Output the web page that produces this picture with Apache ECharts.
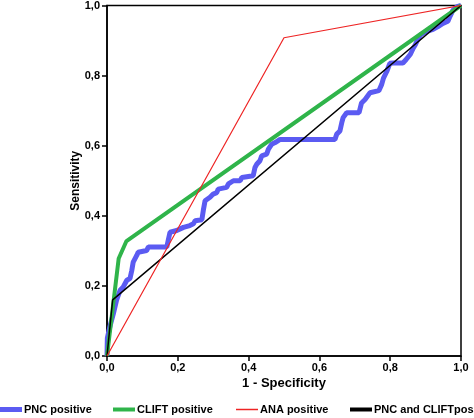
<!DOCTYPE html>
<html>
<head>
<meta charset="utf-8">
<script src="https://cdn.jsdelivr.net/npm/echarts@6/dist/echarts.min.js"></script>
<style>
html,body{margin:0;padding:0;background:#fff;}
#chart{width:474px;height:418px;}
</style>
</head>
<body>
<div id="chart"></div>
<script>
// ---- data ----
const seriesNames = ['PNC positive', 'CLIFT positive', 'ANA positive', 'PNC and CLIFTpos'];
const axisTicks = [0, 0.2, 0.4, 0.6, 0.8, 1.0];

const pncFpr = [0, 0.001, 0.008, 0.018, 0.027, 0.037, 0.046, 0.056, 0.065, 0.070, 0.074, 0.084, 0.088, 0.112, 0.117, 0.169, 0.173, 0.178, 0.197, 0.216, 0.234, 0.244, 0.249, 0.268, 0.272, 0.277, 0.291, 0.300, 0.310, 0.314, 0.338, 0.343, 0.357, 0.376, 0.381, 0.413, 0.418, 0.423, 0.432, 0.437, 0.451, 0.456, 0.465, 0.475, 0.489, 0.644, 0.649, 0.658, 0.663, 0.667, 0.677, 0.712, 0.719, 0.729, 0.743, 0.768, 0.776, 0.781, 0.790, 0.799, 0.809, 0.836, 0.845, 0.857, 0.865, 0.871, 0.879, 0.887, 0.903, 0.921, 0.935, 0.949, 0.963, 0.969, 0.977, 0.989, 1.0];
const pncTpr = [0, 0.051, 0.083, 0.121, 0.159, 0.1875, 0.197, 0.216, 0.221, 0.244, 0.268, 0.287, 0.296, 0.301, 0.311, 0.311, 0.330, 0.353, 0.358, 0.367, 0.372, 0.377, 0.386, 0.389, 0.415, 0.443, 0.453, 0.462, 0.466, 0.476, 0.481, 0.491, 0.500, 0.500, 0.509, 0.514, 0.538, 0.547, 0.557, 0.571, 0.576, 0.590, 0.604, 0.609, 0.618, 0.618, 0.633, 0.642, 0.665, 0.680, 0.694, 0.694, 0.722, 0.732, 0.751, 0.757, 0.775, 0.793, 0.811, 0.835, 0.836, 0.836, 0.846, 0.861, 0.878, 0.888, 0.906, 0.917, 0.926, 0.932, 0.940, 0.949, 0.955, 0.969, 0.986, 0.997, 1.0];

const cliftFpr = [0, 0.033, 0.055, 1.0];
const cliftTpr = [0, 0.278, 0.328, 1.0];

const anaFpr = [0, 0.5, 1.0];
const anaTpr = [0, 0.908, 1.0];

const bothFpr = [0, 0.016, 1.0];
const bothTpr = [0, 0.160, 1.0];

const colors = ['#5b5bf2', '#2fb44a', '#ee2424', '#000000'];

// ---- chart ----
const zip = (a, b) => a.map((v, i) => [v, b[i]]);
const chart = echarts.init(document.getElementById('chart'), null, {renderer: 'canvas'});
const fmt = v => v.toFixed(1).replace('.', ',');
const tickFont = {fontFamily: 'Liberation Sans, Arial, sans-serif', fontWeight: 'bold', fontSize: 11, color: '#000'};

function legendAt(name, left, thick) {
  return {
    data: [name],
    left: left, top: 404, padding: 0,
    itemWidth: 22, itemHeight: 12, itemGap: 0,
    icon: 'path://M0,' + (6 - thick / 2) + 'H22V' + (6 + thick / 2) + 'H0Z',
    itemStyle: {borderWidth: 0},
    textStyle: {fontFamily: 'Liberation Sans, Arial, sans-serif', fontWeight: 'bold', fontSize: 11, color: '#000', padding: [0, 0, 0, -3]},
    selectedMode: false
  };
}

chart.setOption({
  animation: false,
  backgroundColor: '#fff',
  grid: {left: 107, top: 4, right: 13, bottom: 62, show: true, borderColor: '#000', borderWidth: 1.5, backgroundColor: 'transparent'},
  xAxis: {
    type: 'value', min: 0, max: 1, interval: 0.2,
    name: '1 - Specificity', nameLocation: 'middle', nameGap: 21, nameMoveOverlap: false,
    nameTextStyle: {fontFamily: 'Liberation Sans, Arial, sans-serif', fontWeight: 'bold', fontSize: 13, color: '#000'},
    axisLine: {show: true, lineStyle: {color: '#000', width: 1.5}},
    axisTick: {show: true, length: 5, lineStyle: {color: '#000', width: 1.5}},
    axisLabel: Object.assign({margin: 6, formatter: fmt}, tickFont),
    splitLine: {show: false}
  },
  yAxis: {
    type: 'value', min: 0, max: 1, interval: 0.2,
    name: 'Sensitivity', nameLocation: 'middle', nameGap: 25, nameMoveOverlap: false,
    nameTextStyle: {fontFamily: 'Liberation Sans, Arial, sans-serif', fontWeight: 'bold', fontSize: 12, color: '#000'},
    axisLine: {show: true, lineStyle: {color: '#000', width: 1.5}},
    axisTick: {show: true, length: 5, lineStyle: {color: '#000', width: 1.5}},
    axisLabel: Object.assign({margin: 7, formatter: fmt}, tickFont),
    splitLine: {show: false}
  },
  legend: [
    legendAt(seriesNames[0], 0, 5),
    legendAt(seriesNames[1], 113, 4),
    legendAt(seriesNames[2], 236, 1.5),
    legendAt(seriesNames[3], 350, 4)
  ],
  series: [
    {name: seriesNames[0], type: 'line', data: zip(pncFpr, pncTpr), showSymbol: false, symbol: 'none', z: 2,
     lineStyle: {color: colors[0], width: 5}, itemStyle: {color: colors[0]}},
    {name: seriesNames[1], type: 'line', data: zip(cliftFpr, cliftTpr), showSymbol: false, symbol: 'none', z: 3,
     lineStyle: {color: colors[1], width: 4}, itemStyle: {color: colors[1]}},
    {name: seriesNames[2], type: 'line', data: zip(anaFpr, anaTpr), showSymbol: false, symbol: 'none', z: 5,
     lineStyle: {color: colors[2], width: 1.2}, itemStyle: {color: colors[2]}},
    {name: seriesNames[3], type: 'line', data: zip(bothFpr, bothTpr), showSymbol: false, symbol: 'none', z: 4,
     lineStyle: {color: colors[3], width: 1.5}, itemStyle: {color: colors[3]}}
  ]
});
</script>
</body>
</html>
